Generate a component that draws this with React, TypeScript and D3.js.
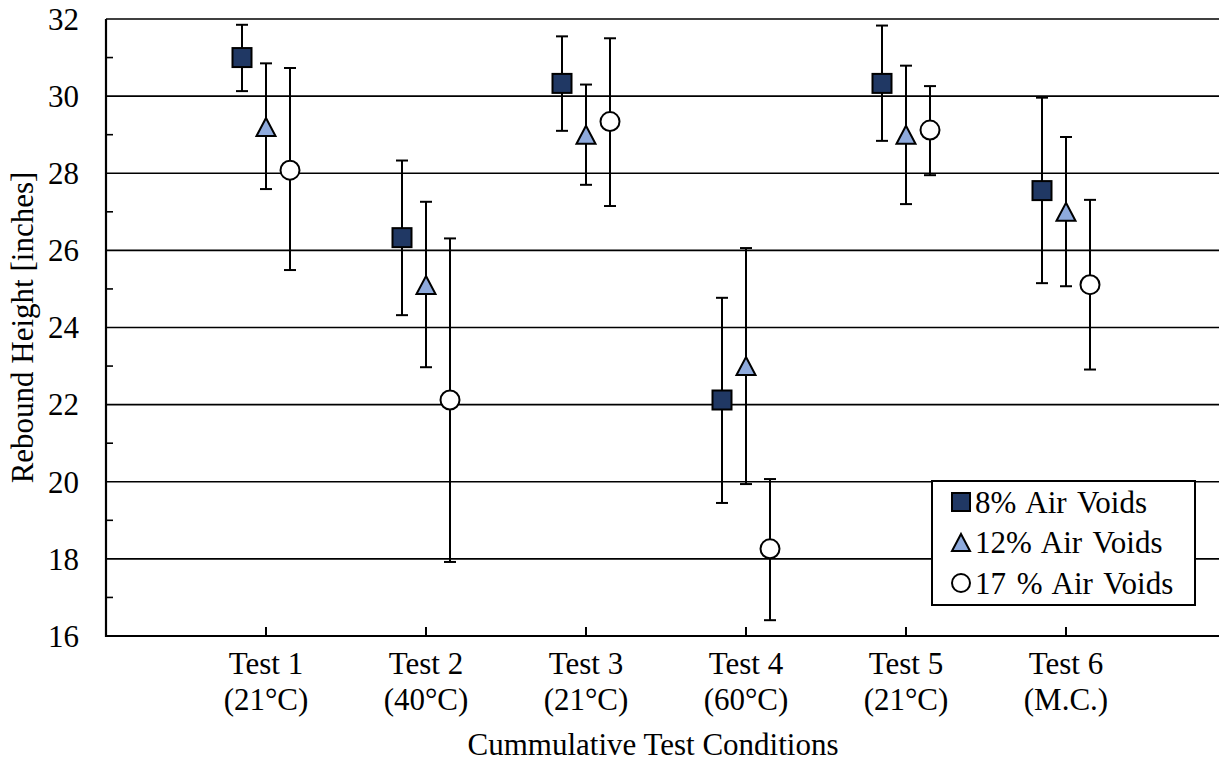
import React from "react";
import * as d3 from "d3";

const categories = ["Test 1", "Test 2", "Test 3", "Test 4", "Test 5", "Test 6"];
const conditions = ["(21°C)", "(40°C)", "(21°C)", "(60°C)", "(21°C)", "(M.C.)"];

const voids8 = [31.0, 26.33, 30.33, 22.12, 30.33, 27.55];
const voids8Hi = [31.85, 28.33, 31.55, 24.77, 31.83, 29.96];
const voids8Lo = [30.13, 24.32, 29.1, 19.45, 28.84, 25.15];

const voids12 = [29.2, 25.1, 29.0, 23.0, 29.0, 27.0];
const voids12Hi = [30.85, 27.26, 30.3, 26.06, 30.79, 28.94];
const voids12Lo = [27.59, 22.97, 27.7, 19.94, 27.2, 25.07];

const voids17 = [28.08, 22.12, 29.34, 18.26, 29.12, 25.11];
const voids17Hi = [30.73, 26.31, 31.5, 20.07, 30.26, 27.31];
const voids17Lo = [25.49, 17.92, 27.15, 16.41, 27.95, 22.91];

const yMajor = [16, 18, 20, 22, 24, 26, 28, 30, 32];
const yMinor = [17, 19, 21, 23, 25, 27, 29, 31];

const series = [
  { name: "8% Air Voids", shape: "square", fill: "#203864", offset: -0.15, mid: voids8, hi: voids8Hi, lo: voids8Lo },
  { name: "12% Air Voids", shape: "triangle", fill: "#8eaadc", offset: 0, mid: voids12, hi: voids12Hi, lo: voids12Lo },
  { name: "17 % Air Voids", shape: "circle", fill: "#ffffff", offset: 0.15, mid: voids17, hi: voids17Hi, lo: voids17Lo },
];

const W = 1219;
const H = 765;
const left = 106;
const top = 19;
const bottom = 636;
const font = "'Liberation Serif', 'Times New Roman', serif";

function Marker({ shape, fill, x, y, s }: { shape: string; fill: string; x: number; y: number; s: number }) {
  if (shape === "square") {
    return <rect x={x - s / 2} y={y - s / 2} width={s} height={s} fill={fill} stroke="#000" strokeWidth={2} />;
  }
  if (shape === "triangle") {
    const h = s * 0.95;
    return (
      <path
        d={`M${x},${y - h / 2}L${x + s / 2},${y + h / 2}L${x - s / 2},${y + h / 2}Z`}
        fill={fill}
        stroke="#000"
        strokeWidth={2}
      />
    );
  }
  return <circle cx={x} cy={y} r={s / 2} fill={fill} stroke="#000" strokeWidth={2} />;
}

export default function App() {
  const x = d3.scaleLinear().domain([0, 7]).range([left, left + 7 * 160]);
  const y = d3.scaleLinear().domain([16, 32]).range([bottom, top]);

  const legendX = 932;
  const legendY = 481;
  const legendW = 263;
  const legendH = 124;

  return (
    <svg width={W} height={H} style={{ display: "block", position: "absolute", left: 0, top: 0 }} fontFamily={font}>
      <rect width={W} height={H} fill="#fff" />
      {/* gridlines */}
      {yMajor.map((v) => (
        <line key={"g" + v} x1={left} x2={W} y1={y(v)} y2={y(v)} stroke="#000" strokeWidth={1.6} />
      ))}
      {/* minor ticks */}
      {yMinor.map((v) => (
        <line key={"m" + v} x1={left} x2={left + 7} y1={y(v)} y2={y(v)} stroke="#000" strokeWidth={1.6} />
      ))}
      {/* axes */}
      <line x1={left} x2={left} y1={top} y2={bottom + 1} stroke="#000" strokeWidth={2.2} />
      <line x1={left} x2={W} y1={bottom} y2={bottom} stroke="#000" strokeWidth={2.2} />
      {categories.map((c, i) => (
        <line key={"xt" + c} x1={x(i + 1)} x2={x(i + 1)} y1={bottom} y2={bottom - 9} stroke="#000" strokeWidth={2} />
      ))}
      {/* y tick labels */}
      {yMajor.map((v) => (
        <text key={"yl" + v} x={79} y={y(v)} dy="0.35em" textAnchor="end" fontSize={31}>
          {v}
        </text>
      ))}
      {/* x tick labels */}
      {categories.map((c, i) => (
        <text key={"xl" + c} x={x(i + 1)} textAnchor="middle" fontSize={31}>
          <tspan x={x(i + 1)} y={674}>{c}</tspan>
          <tspan x={x(i + 1)} y={710}>{conditions[i]}</tspan>
        </text>
      ))}
      <text x={653} y={755} textAnchor="middle" fontSize={31}>
        Cummulative Test Conditions
      </text>
      <text transform={`translate(33,${(top + bottom) / 2}) rotate(-90)`} textAnchor="middle" fontSize={31}>
        Rebound Height [inches]
      </text>
      {/* error bars + markers */}
      {series.map((s) => (
        <g key={s.name}>
          {s.mid.map((v, i) => {
            const cx = x(i + 1 + s.offset);
            return (
              <g key={i}>
                <line x1={cx} x2={cx} y1={y(s.hi[i])} y2={y(s.lo[i])} stroke="#000" strokeWidth={2} />
                <line x1={cx - 6} x2={cx + 6} y1={y(s.hi[i])} y2={y(s.hi[i])} stroke="#000" strokeWidth={2} />
                <line x1={cx - 6} x2={cx + 6} y1={y(s.lo[i])} y2={y(s.lo[i])} stroke="#000" strokeWidth={2} />
                <Marker shape={s.shape} fill={s.fill} x={cx} y={y(v)} s={19} />
              </g>
            );
          })}
        </g>
      ))}
      {/* legend */}
      <rect x={legendX} y={legendY} width={legendW} height={legendH} fill="#fff" stroke="#000" strokeWidth={2} />
      {series.map((s, i) => {
        const ly = legendY + 21 + i * 40.5;
        return (
          <g key={"lg" + s.name}>
            <Marker shape={s.shape} fill={s.fill} x={legendX + 29} y={ly} s={18} />
            <text x={legendX + 43} y={ly} dy="0.35em" fontSize={31} wordSpacing={3}>
              {s.name}
            </text>
          </g>
        );
      })}
    </svg>
  );
}
